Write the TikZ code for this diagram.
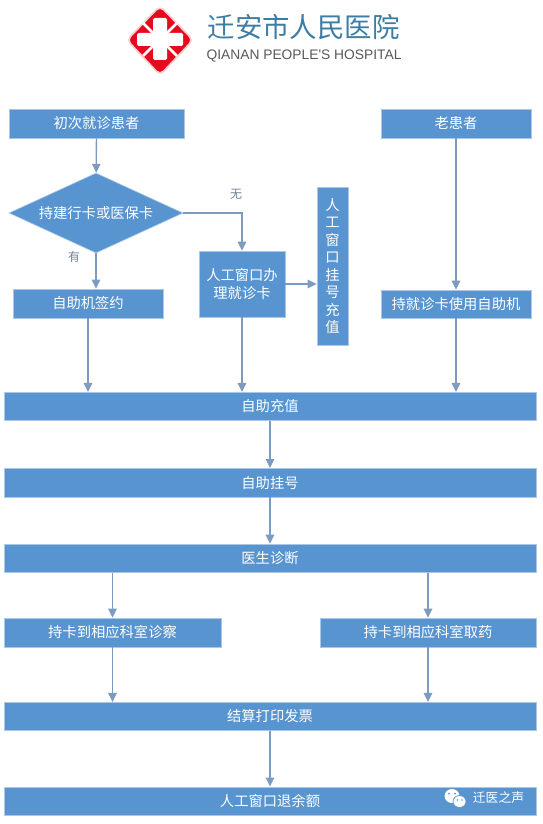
\documentclass[tikz,border=0pt]{standalone}
\usepackage{fontspec}
\setmainfont{Noto Sans CJK SC}
\newfontfamily\latinfont{Liberation Sans}
\usetikzlibrary{shapes.geometric,positioning,arrows.meta}
\definecolor{colBox}{RGB}{88,148,208}
\definecolor{colEdge}{RGB}{170,200,230}
\definecolor{colFlow}{RGB}{125,155,190}
\definecolor{colNote}{RGB}{110,130,150}
\definecolor{colLogo}{RGB}{230,10,30}
\definecolor{colHalo}{RGB}{250,205,205}
\definecolor{colTitle}{RGB}{60,125,165}

\begin{document}
\begin{tikzpicture}[
    x=1pt, y=-1pt,
    every node/.style={font=\fontsize{14.3}{17.5}\selectfont, align=center, inner sep=0pt},
    box/.style={draw=colEdge, line width=0.6pt, fill=colBox, text=white},
    wide/.style={box, minimum width=532pt, minimum height=28.5pt},
    flow/.style={draw=colFlow, line width=1.3pt, -{Triangle[length=9pt,width=8.5pt]}}
]
    \useasboundingbox (0,0) rectangle (542,824);

    % logo
    \filldraw[fill=colLogo, draw=colHalo, line width=1.6pt, rounded corners=5pt] (160,6) -- (193,40) -- (160,75) -- (127,40) -- cycle;
    \draw[white, line width=2.6pt] (153,33) -- (143,23) (167,33) -- (177,23) (153,46) -- (143,56) (167,46) -- (177,56);
    \fill[white, rounded corners=1.5pt] (153,18) -- (167,18) -- (167,33) -- (183,33) -- (183,46) -- (167,46) -- (167,60) -- (153,60) -- (153,46) -- (137,46) -- (137,33) -- (153,33) -- cycle;
    \node[text=colTitle, font=\fontsize{27.4}{29}\selectfont] (title) at (303.5,27) {迁安市人民医院};
    \node[text=black!65, font=\fontsize{13.8}{15}\latinfont] (subtitle) at (304,56) {QIANAN PEOPLE'S HOSPITAL};

    \node[box, minimum width=175pt, minimum height=29pt] (first) at (96.5,123.5) {初次就诊患者};
    \node[box, minimum width=150pt, minimum height=29pt] (old) at (456,123.5) {老患者};
    \node[box, diamond, minimum width=174pt, minimum height=80pt, shape aspect=2.175] (card) at (96,213) {持建行卡或医保卡};
    \node[box, minimum width=150pt, minimum height=29pt] (sign) at (88,303.5) {自助机签约};
    \node[box, minimum width=86pt, minimum height=66pt] (issue) at (242,284) {人工窗口办\\理就诊卡};
    \node[box, minimum width=31pt, minimum height=158pt] (manual) at (332.5,266) {人\\工\\窗\\口\\挂\\号\\充\\值};
    \node[box, minimum width=150pt, minimum height=28pt] (usecard) at (456,304) {持就诊卡使用自助机};

    \node[wide] (recharge) at (270,406.5) {自助充值};
    \node[wide, below=47pt of recharge] (register) {自助挂号};
    \node[wide, below=46.5pt of register] (doctor) {医生诊断};
    \node[box, minimum width=217pt, minimum height=29pt] (exam) at (112.5,632.5) {持卡到相应科室诊察};
    \node[box, minimum width=216pt, minimum height=29pt] (drug) at (428,632.5) {持卡到相应科室取药};
    \node[wide] (pay) at (270,716.5) {结算打印发票};
    \node[wide, below=55.5pt of pay] (refund) {人工窗口退余额};

    \node[text=colNote, font=\fontsize{12}{14}\selectfont] (no) at (236,194) {无};
    \node[text=colNote, font=\fontsize{12}{14}\selectfont] (yes) at (74,257) {有};
    \node[text=white, font=\fontsize{12.8}{14}\selectfont] (mark) at (498.5,798) {迁医之声};

    % wechat mark
    \fill[white] (452,796) ellipse (7.5pt and 7pt);
    \fill[white] (459.5,801.5) ellipse (6.5pt and 6pt);
    \draw[colBox, line width=0.7pt] (459.5,801.5) ellipse (6.5pt and 6pt);
    \fill[colBox] (449,793.5) circle (1pt) (455,793.5) circle (1pt) (457.5,800) circle (0.8pt) (462,800) circle (0.8pt);

    \draw[flow] (first) -- (card);
    \draw[flow] (card) -- (card.south |- sign.north);
    \draw[flow] (card.east) -| (issue.north);
    \draw[flow] (issue) -- (issue -| manual.west);
    \draw[flow] (sign) -- (sign |- recharge.north);
    \draw[flow] (issue) -- (issue |- recharge.north);
    \draw[flow] (old) -- (usecard);
    \draw[flow] (usecard) -- (usecard |- recharge.north);
    \draw[flow] (recharge) -- (register);
    \draw[flow] (register) -- (doctor);
    \draw[flow] (exam |- doctor.south) -- (exam);
    \draw[flow] (drug |- doctor.south) -- (drug);
    \draw[flow] (exam) -- (exam |- pay.north);
    \draw[flow] (drug) -- (drug |- pay.north);
    \draw[flow] (pay) -- (refund);
\end{tikzpicture}
\end{document}
